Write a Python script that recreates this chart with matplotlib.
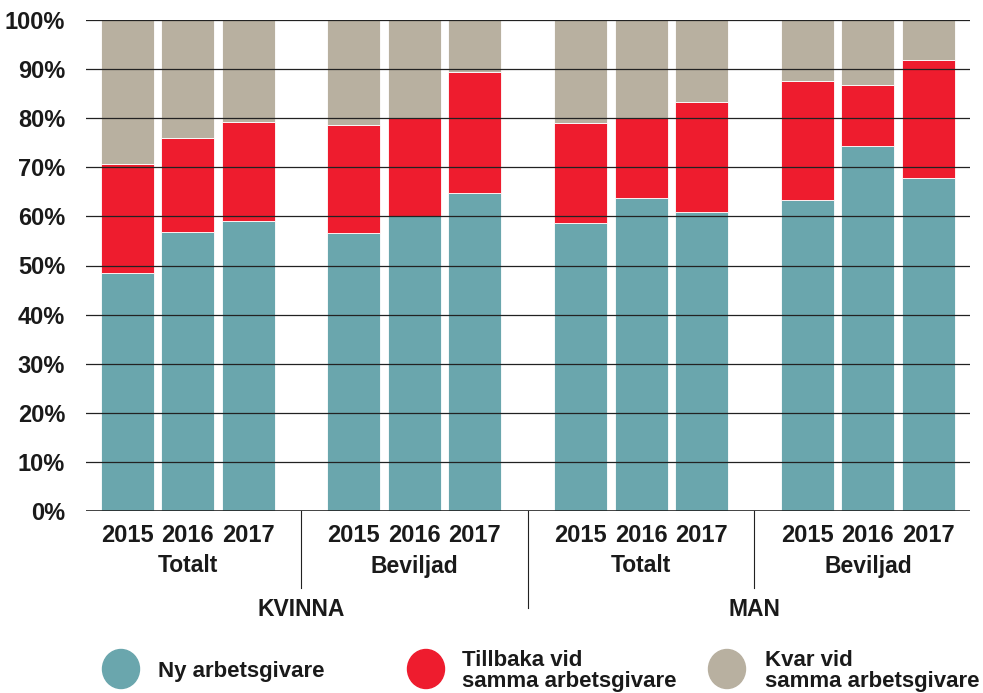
import matplotlib
matplotlib.use("Agg")
from matplotlib import pyplot as plt
from matplotlib.patches import Ellipse
import numpy as np

#######################################################
## data (percent)
#######################################################

years = ["2015", "2016", "2017"]
subgroups = ["Totalt", "Beviljad", "Totalt", "Beviljad"]
genders = ["KVINNA", "MAN"]

ny = [48.4, 56.9, 59.1, 56.7, 60.0, 64.7, 58.6, 63.7, 60.8, 63.3, 74.4, 67.9]
tillbaka_top = [70.6, 75.9, 79.2, 78.6, 80.0, 89.5, 79.1, 80.0, 83.4, 87.6, 86.8, 91.8]
tillbaka = [t - n for t, n in zip(tillbaka_top, ny)]
kvar = [100 - t for t in tillbaka_top]

legend_labels = ["Ny arbetsgivare", "Tillbaka vid\nsamma arbetsgivare", "Kvar vid\nsamma arbetsgivare"]
colors = ["#6aa6ad", "#ee1c2e", "#b8b0a0"]

#######################################################
## plot
#######################################################

FONT = ["Liberation Sans", "DejaVu Sans"]
TXT = "#1a1a1a"

fig = plt.figure(figsize=(9.83, 6.93), dpi=100)
ax = fig.add_axes([86 / 983, 1 - 511 / 693, 884 / 983, 491 / 693])

pitch = 3.75
x = np.array([g * pitch + i for g in range(4) for i in range(3)])
w = 0.875
ax.bar(x, ny, w, color=colors[0], edgecolor="white", linewidth=0.6, zorder=1)
ax.bar(x, tillbaka, w, bottom=ny, color=colors[1], edgecolor="white", linewidth=0.6, zorder=1)
ax.bar(x, kvar, w, bottom=tillbaka_top, color=colors[2], edgecolor="white", linewidth=0.6, zorder=1)

for yv in range(10, 101, 10):
    ax.axhline(yv, color="#222222", lw=0.9, zorder=3)
ax.axhline(0, color="#222222", lw=1.2, zorder=3)

ax.set_xlim(-0.68, 3 * pitch + 2 + 0.69)
ax.set_ylim(0, 100)
for s in ax.spines.values():
    s.set_visible(False)
ax.set_xticks([])
ax.set_yticks(range(0, 101, 10))
ax.set_yticklabels([f"{v}%" for v in range(0, 101, 10)])
ax.tick_params(axis="y", length=0, pad=15)
for lab in ax.get_yticklabels():
    lab.set_fontfamily(FONT)
    lab.set_fontweight("bold")
    lab.set_fontsize(17)
    lab.set_color(TXT)

trans = ax.get_xaxis_transform()
def ypix(py):
    return -(py - 511) / 491

for xi, i in zip(x, range(12)):
    ax.text(xi, ypix(536), years[i % 3], transform=trans, ha="center", va="center",
            fontsize=17, fontweight="bold", family=FONT, color=TXT)
for g in range(4):
    ax.text(g * pitch + 1, ypix(566), subgroups[g], transform=trans, ha="center", va="center",
            fontsize=16.5, fontweight="bold", family=FONT, color=TXT)
for k in range(2):
    ax.text(k * 2 * pitch + (pitch + 2) / 2, ypix(610), genders[k], transform=trans,
            ha="center", va="center", fontsize=16.5, fontweight="bold", family=FONT, color=TXT)

# separators
for g, bottom in [(0, 588), (1, 608), (2, 588)]:
    xs = g * pitch + 2 + (pitch - 2) / 2
    ax.plot([xs, xs], [0, ypix(bottom)], transform=trans, color="#222222", lw=0.8,
            clip_on=False)

# legend
for (px, tx), lab, c in zip([(121, 158), (426, 462), (727, 765)], legend_labels, colors):
    fig.patches.append(Ellipse((px / 983, 1 - 669 / 693), 37 / 983, 39 / 693,
                               transform=fig.transFigure, color=c))
    fig.text(tx / 983, 1 - 671 / 693, lab, ha="left", va="center", fontsize=16,
             fontweight="bold", family=FONT, color=TXT, linespacing=1.05)

plt.savefig("out.png", dpi=100)
plt.close()
